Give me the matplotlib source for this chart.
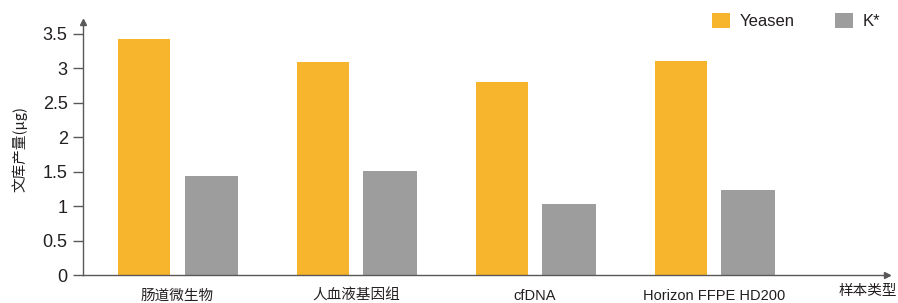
import numpy as np
import matplotlib.pyplot as plt
from matplotlib.ticker import FuncFormatter

plt.rcParams['font.family'] = ['Liberation Sans', 'Noto Sans CJK SC', 'DejaVu Sans']

# data
categories = ['肠道微生物', '人血液基因组', 'cfDNA', 'Horizon FFPE HD200']
yeasen = [3.43, 3.09, 2.80, 3.11]
kstar = [1.44, 1.51, 1.03, 1.23]
series_names = ['Yeasen', 'K*']
yticks = [0, 0.5, 1, 1.5, 2, 2.5, 3, 3.5]

c_yellow = '#F6B52C'
c_gray = '#9D9D9D'
c_axis = '#595757'
c_text = '#231F20'

fig = plt.figure(figsize=(8.98, 3.03), dpi=100)
ax = fig.add_axes([0.0924, 0.0924, 0.8956, 0.835])

x = np.arange(len(categories))
w = 0.29
off = 0.185
ax.bar(x - off, yeasen, width=w, color=c_yellow, label=series_names[0])
ax.bar(x + off + 0.006, kstar, width=w + 0.01, color=c_gray, label=series_names[1])

ax.set_xlim(-0.527, 3.97)
ax.set_ylim(0, 3.67)

for s in ['top', 'right']:
    ax.spines[s].set_visible(False)
for s in ['left', 'bottom']:
    ax.spines[s].set_color(c_axis)
    ax.spines[s].set_linewidth(1.0)

# arrow heads
ax.plot(1, 0, marker='>', color=c_axis, markersize=5, transform=ax.transAxes, clip_on=False)
ax.plot(0, 1, marker='^', color=c_axis, markersize=5, transform=ax.transAxes, clip_on=False)

ax.set_yticks(yticks)
ax.yaxis.set_major_formatter(FuncFormatter(lambda v, p: '%g' % v))
ax.tick_params(axis='y', direction='out', length=7, width=1, color=c_axis,
               labelsize=13, labelcolor=c_text, pad=4)
ax.set_xticks(x)
ax.set_xticklabels(categories)
ax.tick_params(axis='x', length=0, labelsize=10.5, labelcolor=c_text, pad=10)

ax.set_ylabel('文库产量(μg)', fontsize=10.5, color=c_text, labelpad=11,
              family=['Noto Sans CJK SC', 'DejaVu Sans'])

fig.text(0.999, 0.018, '样本类型', ha='right', va='bottom', fontsize=10.5,
         color=c_text, family=['Noto Sans CJK SC', 'DejaVu Sans'])

leg = ax.legend(loc='upper right', bbox_to_anchor=(1.01, 1.095), ncol=2, frameon=False,
                fontsize=12, handlelength=1.05, handleheight=1.05,
                columnspacing=2.42, handletextpad=0.6, labelcolor=c_text)

fig.savefig('out.png', dpi=100)
